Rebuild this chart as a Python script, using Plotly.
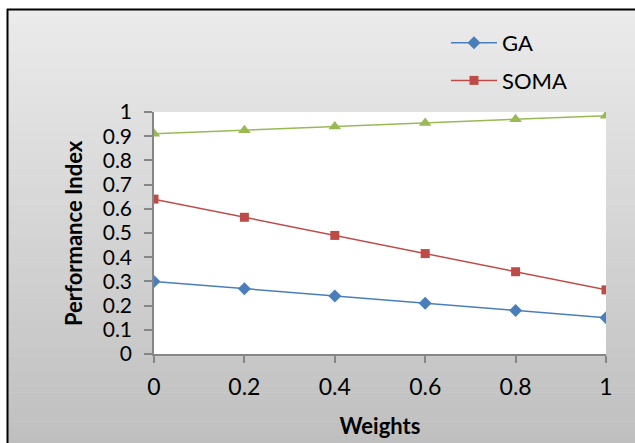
import plotly.graph_objects as go

weights = [0, 0.2, 0.4, 0.6, 0.8, 1]
ga = [0.30, 0.27, 0.24, 0.21, 0.18, 0.15]
soma = [0.64, 0.565, 0.49, 0.415, 0.34, 0.265]
third = [0.91, 0.925, 0.94, 0.955, 0.97, 0.985]
y_ticks = [0, 0.1, 0.2, 0.3, 0.4, 0.5, 0.6, 0.7, 0.8, 0.9, 1]
x_ticks = [0, 0.2, 0.4, 0.6, 0.8, 1]

W, H = 635, 443
L, R, T, B = 154, 29, 112, 89
pw, ph = W - L - R, H - T - B
FONT = "Lato"

def px2x(px):
    return (px - L) / pw

def py2y(py):
    return (H - B - py) / ph

fig = go.Figure()
fig.add_trace(go.Scatter(x=weights, y=ga, name="GA", mode="lines+markers",
                         line=dict(color="#4a7ebb", width=1.5),
                         marker=dict(symbol="diamond", size=10, color="#4a7ebb"),
                         legendgroup="a"))
fig.add_trace(go.Scatter(x=weights, y=soma, name="SOMA", mode="lines+markers",
                         line=dict(color="#be4b48", width=1.5),
                         marker=dict(symbol="square", size=9, color="#be4b48"),
                         legendgroup="b"))
fig.add_trace(go.Scatter(x=weights, y=third, name="Series3", mode="lines+markers",
                         line=dict(color="#98b954", width=1.5),
                         marker=dict(symbol="triangle-up", size=11, color="#98b954"),
                         showlegend=False))

# gradient background strips
shapes = []
top, bot = 9, H
n = 60
c0, c1 = 0xEB, 0xBF
for i in range(n):
    y0 = top + (bot - top) * i / n
    y1 = top + (bot - top) * (i + 1) / n + 0.5
    c = round(c0 + (c1 - c0) * (i + 0.5) / n)
    col = f"rgb({c},{c},{c})"
    shapes.append(dict(type="rect", xref="paper", yref="paper", layer="below",
                       x0=px2x(7), x1=px2x(W + 2), y0=py2y(y0), y1=py2y(y1),
                       fillcolor=col, line=dict(width=0)))
# white plot area
shapes.append(dict(type="rect", xref="paper", yref="paper", layer="below",
                   x0=0, x1=1, y0=0, y1=1, fillcolor="white", line=dict(width=0)))
# black frame (top and left)
shapes.append(dict(type="line", xref="paper", yref="paper", layer="below",
                   x0=px2x(7), x1=px2x(W + 2), y0=py2y(9.5), y1=py2y(9.5),
                   line=dict(color="black", width=2)))
shapes.append(dict(type="line", xref="paper", yref="paper", layer="below",
                   x0=px2x(7.5), x1=px2x(7.5), y0=py2y(9), y1=py2y(H + 2),
                   line=dict(color="black", width=2)))

axis_common = dict(showgrid=False, zeroline=False, showline=True, linecolor="#868686",
                   linewidth=1.5, ticks="outside", tickcolor="#868686", tickwidth=1.5)

fig.update_layout(
    width=W, height=H,
    margin=dict(l=L, r=R, t=T, b=B, autoexpand=False),
    paper_bgcolor="white", plot_bgcolor="white",
    shapes=shapes,
    showlegend=True,
    legend=dict(x=px2x(446), y=py2y(22), xanchor="left", yanchor="top",
                bgcolor="rgba(0,0,0,0)", font=dict(family=FONT, size=22, color="black"),
                tracegroupgap=6, itemwidth=46),
    xaxis=dict(range=[0, 1], tickvals=x_ticks, ticktext=[f"{v:g}" for v in x_ticks],
               ticklen=7, ticklabelstandoff=5,
               tickfont=dict(family=FONT, size=23, color="black"),
               title=dict(text="<b>Weights</b>", font=dict(family=FONT, size=22, color="black"),
                          standoff=19),
               **axis_common),
    yaxis=dict(range=[0, 1], tickvals=y_ticks, ticktext=[f"{v:g}" for v in y_ticks],
               ticklen=8, ticklabelstandoff=8,
               tickfont=dict(family=FONT, size=21, color="black"),
               **axis_common),
    annotations=[dict(text="<b>Performance Index</b>", textangle=-90, showarrow=False,
                      xref="paper", yref="paper", x=px2x(73), y=py2y(233),
                      xanchor="center", yanchor="middle",
                      font=dict(family=FONT, size=22, color="black"))],
)

fig.write_html("out.html")
